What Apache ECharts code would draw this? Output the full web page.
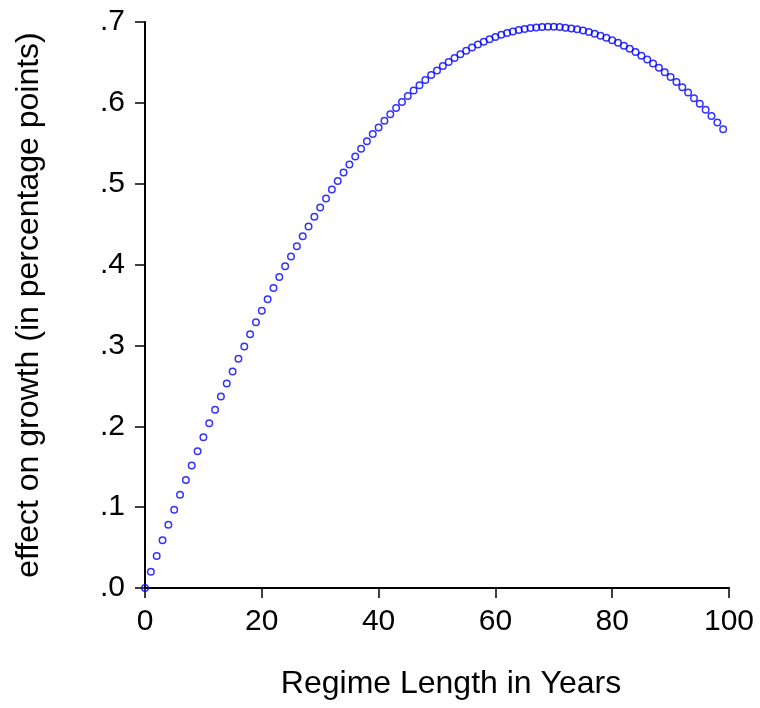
<!DOCTYPE html>
<html>
<head>
<meta charset="utf-8">
<title>Regime length effect</title>
<script src="https://cdn.jsdelivr.net/npm/echarts@6/dist/echarts.min.js"></script>
<style>
  html, body { margin: 0; padding: 0; background: #fff; }
  #main { width: 760px; height: 708px; }
</style>
</head>
<body>
<div id="main"></div>
<script>
// regime length in years, 0..99
var years = [];
for (var i = 0; i < 100; i++) years.push(i);

// effect on growth
var effect = [
  0.0000, 0.0200, 0.0396, 0.0590, 0.0781, 0.0969, 0.1154, 0.1336, 0.1515, 0.1692,
  0.1865, 0.2036, 0.2203, 0.2368, 0.2530, 0.2679, 0.2835, 0.2988, 0.3138, 0.3286,
  0.3430, 0.3572, 0.3710, 0.3846, 0.3979, 0.4099, 0.4226, 0.4350, 0.4471, 0.4590,
  0.4705, 0.4818, 0.4927, 0.5034, 0.5138, 0.5239, 0.5337, 0.5432, 0.5524, 0.5614,
  0.5695, 0.5779, 0.5859, 0.5937, 0.6012, 0.6084, 0.6153, 0.6219, 0.6282, 0.6343,
  0.6400, 0.6455, 0.6506, 0.6555, 0.6601, 0.6644, 0.6684, 0.6721, 0.6755, 0.6787,
  0.6815, 0.6841, 0.6863, 0.6883, 0.6900, 0.6914, 0.6925, 0.6933, 0.6938, 0.6941,
  0.6940, 0.6937, 0.6930, 0.6921, 0.6909, 0.6894, 0.6876, 0.6855, 0.6831, 0.6805,
  0.6775, 0.6743, 0.6707, 0.6669, 0.6628, 0.6584, 0.6537, 0.6487, 0.6434, 0.6379,
  0.6320, 0.6259, 0.6194, 0.6127, 0.6057, 0.5989, 0.5915, 0.5838, 0.5757, 0.5673
];

var xTicks = [0, 20, 40, 60, 80, 100];
var yTicks = ['.0', '.1', '.2', '.3', '.4', '.5', '.6', '.7'];

var points = [];
for (var k = 0; k < years.length; k++) points.push([years[k], effect[k]]);

var font = 'Liberation Sans, Arial, sans-serif';
var chart = echarts.init(document.getElementById('main'));
chart.setOption({
  backgroundColor: '#fff',
  animation: false,
  grid: { left: 145, right: 31, top: 22, bottom: 120 },
  xAxis: {
    type: 'value',
    min: 0,
    max: 100,
    interval: 20,
    name: 'Regime Length in Years',
    nameLocation: 'middle',
    nameGap: 80,
    nameTextStyle: { fontFamily: font, fontSize: 32, color: '#000', padding: [0, 0, 0, 28] },
    axisLine: { lineStyle: { color: '#000', width: 2 } },
    axisTick: { show: true, length: 10, lineStyle: { color: '#000', width: 1.5 } },
    axisLabel: {
      fontFamily: font, fontSize: 30, color: '#000', margin: 19,
      formatter: function(v) { return xTicks.indexOf(v) >= 0 ? String(v) : ''; }
    },
    splitLine: { show: false }
  },
  yAxis: {
    type: 'value',
    min: 0,
    max: 0.7,
    interval: 0.1,
    offset: 2,
    name: 'effect on growth (in percentage points)',
    nameLocation: 'middle',
    nameGap: 98,
    nameTextStyle: { fontFamily: font, fontSize: 32, color: '#000' },
    axisLine: { show: true, lineStyle: { color: '#000', width: 2 } },
    axisTick: { show: true, length: 10, lineStyle: { color: '#000', width: 1.5 } },
    axisLabel: {
      fontFamily: font, fontSize: 30, color: '#000', margin: 18,
      formatter: function(v) { return yTicks[Math.round(v * 10)]; }
    },
    splitLine: { show: false }
  },
  series: [{
    type: 'scatter',
    data: points,
    symbol: 'circle',
    symbolSize: 6.5,
    itemStyle: { color: 'rgba(0,0,0,0)', borderColor: '#0000ff', borderWidth: 1.5 }
  }]
});
</script>
</body>
</html>
